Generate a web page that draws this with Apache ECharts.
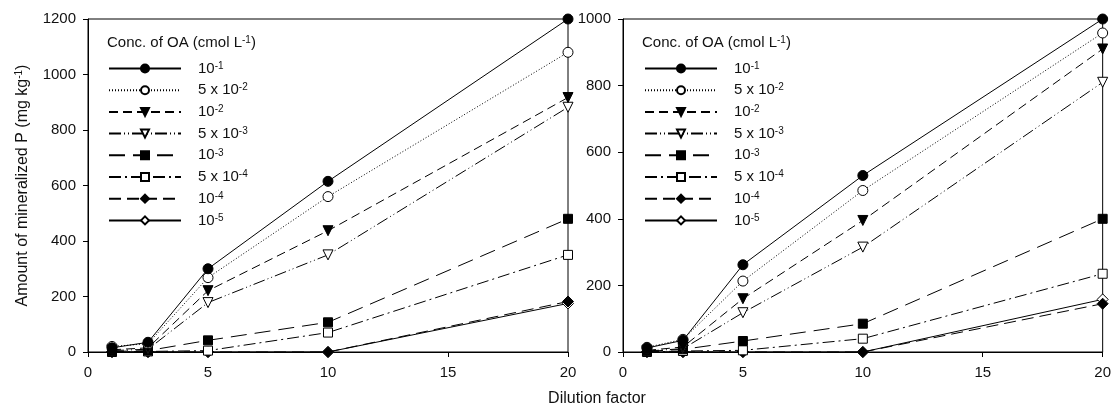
<!DOCTYPE html>
<html>
<head>
<meta charset="utf-8">
<script src="https://cdn.jsdelivr.net/npm/echarts@6/dist/echarts.min.js"></script>
<style>
  html, body { margin: 0; padding: 0; background: #fff; }
  #chart { width: 1114px; height: 410px; }
</style>
</head>
<body>
<div id="chart"></div>
<script>
// dilution factors (x)
const dilution = [1, 2.5, 5, 10, 20]

// legend names (OA concentration, cmol/L)
const concNames = ['10-1', '5x10-2', '10-2', '5x10-3', '10-3', '5x10-4', '10-4', '10-5']

// left panel values, mg/kg
const left_1e1 = [15, 35, 300, 615, 1200]
const left_5e2 = [20, 30, 268, 560, 1080]
const left_1e2 = [8, 15, 221, 437, 917]
const left_5e3 = [5, 10, 178, 350, 882]
const left_1e3 = [2, 5, 42, 107, 480]
const left_5e4 = [0, 2, 5, 70, 350]
const left_1e4 = [0, 0, 0, 0, 182]
const left_1e5 = [0, 0, 0, 0, 175]

// right panel values, mg/kg
const right_1e1 = [12, 35, 262, 530, 1000]
const right_5e2 = [14, 38, 213, 485, 958]
const right_1e2 = [5, 15, 160, 395, 910]
const right_5e3 = [3, 10, 118, 315, 810]
const right_1e3 = [2, 8, 33, 85, 400]
const right_5e4 = [0, 3, 5, 40, 235]
const right_1e4 = [0, 0, 0, 0, 145]
const right_1e5 = [0, 0, 0, 0, 158]

const leftVals = [left_1e1, left_5e2, left_1e2, left_5e3, left_1e3, left_5e4, left_1e4, left_1e5]
const rightVals = [right_1e1, right_5e2, right_1e2, right_5e3, right_1e3, right_5e4, right_1e4, right_1e5]

const labelRich = {
  '10-1': '10{s|-1}', '5x10-2': '5 x 10{s|-2}', '10-2': '10{s|-2}', '5x10-3': '5 x 10{s|-3}',
  '10-3': '10{s|-3}', '5x10-4': '5 x 10{s|-4}', '10-4': '10{s|-4}', '10-5': '10{s|-5}'
}

// marker + line look for each concentration
const styles = [
  { symbol: 'circle', fill: '#000', dash: 'solid', rot: 0 },
  { symbol: 'circle', fill: '#fff', dash: [1, 2], rot: 0 },
  { symbol: 'triangle', fill: '#000', dash: [9, 5], rot: 180 },
  { symbol: 'triangle', fill: '#fff', dash: [12, 3, 1, 3, 1, 3], rot: 180 },
  { symbol: 'rect', fill: '#000', dash: [16, 8], rot: 0 },
  { symbol: 'rect', fill: '#fff', dash: [12, 4, 2, 4], rot: 0 },
  { symbol: 'diamond', fill: '#000', dash: [12, 6], rot: 0 },
  { symbol: 'diamond', fill: '#fff', dash: 'solid', rot: 0 },
]

const FONT = 'Liberation Sans, Arial, sans-serif'
const richSup = {
  s: { fontSize: 10, fontFamily: FONT, color: '#111', verticalAlign: 'top', lineHeight: 10, padding: [0, 0, 6, 0] }
}

function makeSeries(vals, gi) {
  return vals.map((v, i) => {
    const st = styles[i]
    return {
      name: concNames[i],
      type: 'line',
      xAxisIndex: gi,
      yAxisIndex: gi,
      data: dilution.map((x, k) => [x, v[k]]),
      symbol: st.symbol,
      symbolSize: st.symbol === 'diamond' ? 11 : (st.symbol === 'rect' ? 9 : 10),
      symbolRotate: st.rot,
      showAllSymbols: true,
      z: 10 - i,
      lineStyle: { color: '#000', width: 1, type: st.dash },
      itemStyle: { color: st.fill, borderColor: '#000', borderWidth: 1 },
      emphasis: { disabled: true },
      animation: false,
    }
  })
}

function xAxis(gi) {
  return {
    type: 'value', gridIndex: gi, min: 0, max: 20, interval: 5,
    axisLine: { show: true, onZero: false, lineStyle: { color: '#000', width: 1 } },
    axisTick: { show: true, length: 5, lineStyle: { color: '#000' } },
    axisLabel: { color: '#111', fontSize: 15, fontFamily: FONT, margin: 13 },
    splitLine: { show: false },
  }
}

function yAxis(gi, max, name) {
  return {
    type: 'value', gridIndex: gi, min: 0, max: max, interval: 200,
    axisLine: { show: true, onZero: false, lineStyle: { color: '#000', width: 1 } },
    axisTick: { show: true, length: 5, lineStyle: { color: '#000' } },
    axisLabel: { color: '#111', fontSize: 15, fontFamily: FONT, margin: 12, formatter: v => String(v) },
    splitLine: { show: false },
    name: name,
    nameLocation: 'middle',
    nameGap: 57,
    nameRotate: 90,
    nameTextStyle: {
      color: '#111', fontSize: 16, fontFamily: FONT,
      rich: { s: { fontSize: 10, fontFamily: FONT, color: '#111', padding: [0, 0, 7, 0] } }
    },
  }
}

function legend(left) {
  return {
    data: concNames.map(n => ({ name: n })),
    orient: 'vertical',
    left: left,
    top: 56,
    itemWidth: 72,
    itemHeight: 10,
    itemGap: 5.7,
    selectedMode: false,
    textStyle: { color: '#111', fontSize: 15, fontFamily: FONT, padding: [0, 0, 0, 12], rich: richSup },
    formatter: n => labelRich[n],
  }
}

const chart = echarts.init(document.getElementById('chart'), null, { renderer: 'canvas' })

const option = {
  backgroundColor: '#fff',
  animation: false,
  grid: [
    { left: 88, right: 546, top: 19, bottom: 58, show: true, borderColor: '#000', borderWidth: 1 },
    { left: 623, right: 9, top: 19, bottom: 58, show: true, borderColor: '#000', borderWidth: 1 },
  ],
  xAxis: [xAxis(0), xAxis(1)],
  yAxis: [
    yAxis(0, 1200, 'Amount of mineralized P (mg kg{s|-1})'),
    yAxis(1, 1000, ''),
  ],
  legend: [legend(103), legend(639)],
  graphic: [
    {
      type: 'text', left: 107, top: 35,
      style: { text: 'Conc. of OA (cmol L{s|-1})', font: '15px ' + FONT, fill: '#111', rich: richSup }
    },
    {
      type: 'text', left: 642, top: 35,
      style: { text: 'Conc. of OA (cmol L{s|-1})', font: '15px ' + FONT, fill: '#111', rich: richSup }
    },
    {
      type: 'text', x: 597, y: 399,
      style: { text: 'Dilution factor', font: '16px ' + FONT, fill: '#111', align: 'center', verticalAlign: 'middle' }
    },
  ],
  series: [...makeSeries(leftVals, 0), ...makeSeries(rightVals, 1)],
}

chart.setOption(option)
</script>
</body>
</html>
